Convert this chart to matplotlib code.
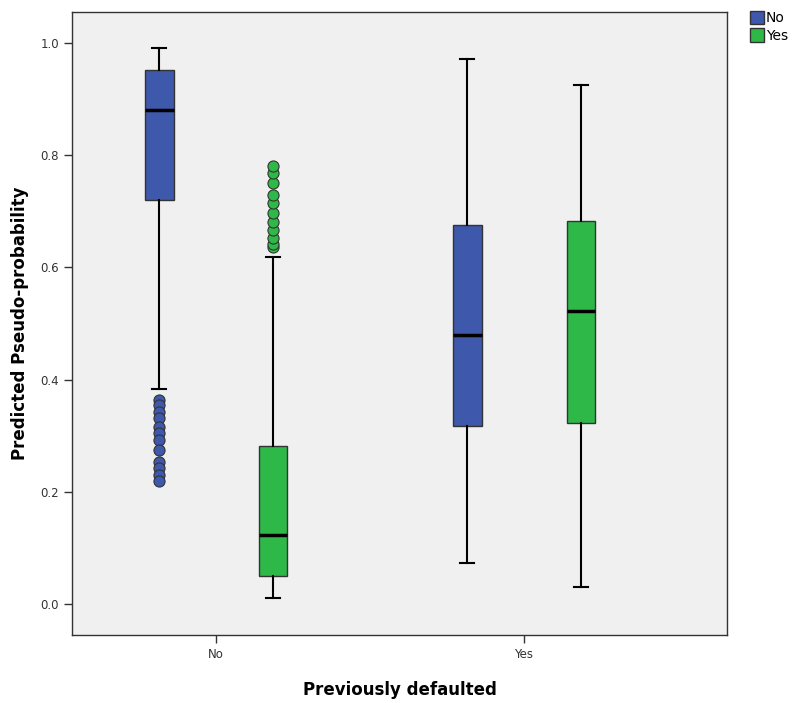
import matplotlib
matplotlib.use("Agg")
import matplotlib.pyplot as plt
from matplotlib.patches import Patch

# Five-number summaries
groups = ["No", "Yes"]
series = ["No", "Yes"]
colors = {"No": "#3E58AC", "Yes": "#2EB848"}

stats_data = {
    ("No", "No"): dict(whislo=0.383, q1=0.720, med=0.881, q3=0.952, whishi=0.991,
                       fliers=[0.364, 0.355, 0.342, 0.332, 0.316, 0.305, 0.292,
                               0.275, 0.253, 0.242, 0.230, 0.219]),
    ("No", "Yes"): dict(whislo=0.011, q1=0.050, med=0.123, q3=0.282, whishi=0.619,
                        fliers=[0.636, 0.642, 0.652, 0.667, 0.681, 0.697, 0.715,
                                0.729, 0.750, 0.768, 0.780]),
    ("Yes", "No"): dict(whislo=0.073, q1=0.317, med=0.480, q3=0.676, whishi=0.971,
                        fliers=[]),
    ("Yes", "Yes"): dict(whislo=0.030, q1=0.323, med=0.522, q3=0.683, whishi=0.925,
                         fliers=[]),
}

fig = plt.figure(figsize=(7.96, 7.03), dpi=100)
ax = fig.add_axes([0.0905, 0.0967, 0.8228, 0.8863])
ax.set_facecolor("#F0F0F0")

offset = 0.185
width = 0.094
for gi, g in enumerate(groups):
    for si, s in enumerate(series):
        st = dict(stats_data[(g, s)])
        pos = gi + (-offset if si == 0 else offset)
        ax.bxp([st], positions=[pos], widths=width, patch_artist=True,
               showfliers=True,
               boxprops=dict(facecolor=colors[s], edgecolor="#333333", linewidth=1),
               medianprops=dict(color="black", linewidth=2.5),
               whiskerprops=dict(color="black", linewidth=1.5),
               capprops=dict(color="black", linewidth=1.5),
               capwidths=0.0455,
               flierprops=dict(marker="o", markerfacecolor=colors[s],
                               markeredgecolor="#333333", markersize=8,
                               markeredgewidth=0.8))

ax.set_xlim(-0.4675, 1.659)
ax.set_ylim(-0.055, 1.055)
ax.set_xticks([0, 1])
ax.set_xticklabels(groups)
ax.set_yticks([0.0, 0.2, 0.4, 0.6, 0.8, 1.0])
ax.set_yticklabels(["0.0", "0.2", "0.4", "0.6", "0.8", "1.0"])
ax.tick_params(axis="both", labelsize=8.5, length=6, width=1, colors="#333333",
               labelcolor="#333333")
for sp in ax.spines.values():
    sp.set_color("#333333")
    sp.set_linewidth(1)

ax.set_xlabel("Previously defaulted", fontsize=12, fontweight="bold", labelpad=14)
ax.set_ylabel("Predicted Pseudo-probability", fontsize=12, fontweight="bold", labelpad=8)

handles = [Patch(facecolor=colors[s], edgecolor="#333333", label=s) for s in series]
fig.legend(handles=handles, loc="upper left", bbox_to_anchor=(0.942, 0.985),
           frameon=False, fontsize=10, handlelength=1.0, handleheight=1.1,
           handletextpad=0.15, labelspacing=0.25, borderaxespad=0, borderpad=0)

fig.savefig("out.png", dpi=100)
